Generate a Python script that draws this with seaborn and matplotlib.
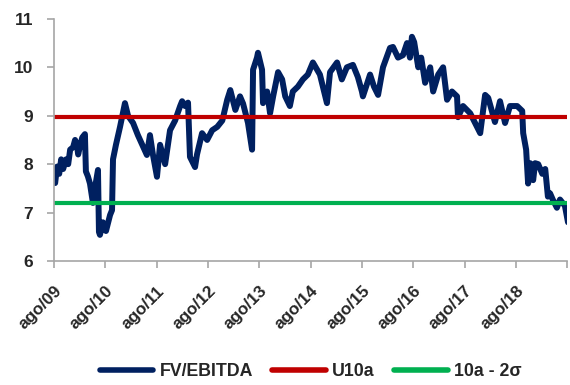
import matplotlib
matplotlib.use("Agg")
import matplotlib.pyplot as plt
import matplotlib.dates as mdates
import seaborn as sns
import pandas as pd

dates = [
    "2009-08-08", "2009-08-22", "2009-09-06", "2009-09-20", "2009-10-04", "2009-10-25",
    "2009-11-09", "2009-11-23", "2009-12-14", "2009-12-28", "2010-01-12", "2010-01-19",
    "2010-02-03", "2010-02-17", "2010-03-08", "2010-03-15", "2010-03-29", "2010-04-13",
    "2010-05-04", "2010-05-18", "2010-06-09", "2010-06-16", "2010-06-23", "2010-07-14",
    "2010-08-05", "2010-09-03", "2010-09-17", "2010-09-24", "2010-10-15", "2010-11-13",
    "2010-12-18", "2011-01-09", "2011-02-14", "2011-03-20", "2011-05-23", "2011-06-14",
    "2011-07-05", "2011-08-03", "2011-08-25", "2011-09-30", "2011-11-04", "2011-12-10",
    "2012-01-15", "2012-01-29", "2012-02-19", "2012-03-11", "2012-03-25", "2012-04-30",
    "2012-05-14", "2012-06-19", "2012-07-25", "2012-08-30", "2012-10-05", "2012-11-10",
    "2012-12-15", "2013-01-06", "2013-02-11", "2013-03-16", "2013-04-07", "2013-05-12",
    "2013-06-10", "2013-06-17", "2013-07-15", "2013-07-22", "2013-08-20", "2013-08-27",
    "2013-09-25", "2013-10-16", "2013-11-07", "2013-12-12", "2014-01-10", "2014-02-01",
    "2014-03-06", "2014-03-27", "2014-05-02", "2014-06-07", "2014-07-12", "2014-08-17",
    "2014-10-06", "2014-11-25", "2014-12-17", "2015-02-05", "2015-03-11", "2015-04-16",
    "2015-05-29", "2015-07-03", "2015-08-01", "2015-08-08", "2015-09-28", "2015-10-26",
    "2015-11-24", "2015-12-29", "2016-02-17", "2016-03-09", "2016-04-14", "2016-05-19",
    "2016-06-17", "2016-07-08", "2016-07-22", "2016-08-07", "2016-09-05", "2016-09-26",
    "2016-10-24", "2016-11-29", "2016-12-20", "2017-01-25", "2017-03-01", "2017-03-29",
    "2017-05-03", "2017-06-08", "2017-06-15", "2017-07-21", "2017-09-10", "2017-10-15",
    "2017-11-20", "2017-12-25", "2018-01-16", "2018-03-05", "2018-04-10", "2018-05-16",
    "2018-06-20", "2018-08-10", "2018-09-15", "2018-09-22", "2018-10-13", "2018-10-27",
    "2018-11-11", "2018-12-02", "2018-12-16", "2019-01-07", "2019-02-05", "2019-02-26",
    "2019-03-17", "2019-04-01", "2019-04-22", "2019-05-20", "2019-06-11", "2019-07-16",
    "2019-08-07",
]
fv_ebitda = [
    7.61, 7.95, 7.80, 8.10, 7.90, 8.10,
    8.00, 8.30, 8.35, 8.50, 8.35, 8.20,
    8.40, 8.55, 8.62, 7.85, 7.75, 7.60,
    7.20, 7.50, 7.88, 6.60, 6.54, 6.80,
    6.62, 6.95, 7.05, 8.10, 8.40, 8.77,
    9.26, 9.00, 8.85, 8.60, 8.19, 8.60,
    8.20, 7.74, 8.40, 8.00, 8.70, 8.90,
    9.20, 9.30, 9.20, 9.27, 8.15, 7.94,
    8.20, 8.64, 8.50, 8.70, 8.77, 8.90,
    9.33, 9.53, 9.12, 9.40, 9.25, 8.85,
    8.30, 9.95, 10.20, 10.30, 9.95, 9.26,
    9.50, 9.05, 9.40, 9.90, 9.75, 9.40,
    9.20, 9.50, 9.60, 9.75, 9.85, 10.10,
    9.85, 9.26, 9.90, 10.10, 9.75, 10.00,
    10.05, 9.80, 9.50, 9.40, 9.85, 9.60,
    9.43, 10.00, 10.40, 10.42, 10.20, 10.25,
    10.50, 10.20, 10.63, 10.52, 10.00, 10.20,
    9.68, 10.00, 9.50, 9.85, 10.00, 9.33,
    9.50, 9.40, 8.97, 9.20, 9.05, 8.85,
    8.64, 9.43, 9.37, 8.87, 9.30, 8.85,
    9.20, 9.20, 9.10, 8.64, 8.30, 7.60,
    8.02, 7.67, 8.02, 8.00, 7.80, 7.90,
    7.33, 7.40, 7.26, 7.10, 7.27, 7.14,
    6.80,
]
u10a = 8.97
lower_band = 7.19
series_names = ["FV/EBITDA", "U10a", "10a - 2σ"]
tick_years = list(range(2009, 2020))

sns.set_theme(style="white")
plt.rcParams["font.family"] = ["Liberation Sans", "DejaVu Sans"]

df = pd.DataFrame({"date": pd.to_datetime(dates), "value": fv_ebitda})

fig = plt.figure(figsize=(5.7, 3.85), dpi=100)
ax = fig.add_axes([0.095, 0.322, 0.9, 0.629])

sns.lineplot(data=df, x="date", y="value", ax=ax, color="#002060",
             linewidth=4.3, label=series_names[0], solid_joinstyle="round",
             solid_capstyle="round")
ax.axhline(u10a, color="#C00000", linewidth=3.0, label=series_names[1])
ax.axhline(lower_band, color="#00B050", linewidth=3.0, label=series_names[2])

ax.set_xlim(pd.Timestamp("2009-08-01"), pd.Timestamp("2019-08-01"))
ax.set_ylim(6, 11)
ax.set_yticks([6, 7, 8, 9, 10, 11])
ax.set_xticks([pd.Timestamp(f"{y}-08-01") for y in tick_years])
ax.xaxis.set_major_formatter(mdates.DateFormatter("ago/%y"))
ax.set_xlabel("")
ax.set_ylabel("")

for s in ["top", "right"]:
    ax.spines[s].set_visible(False)
for s in ["left", "bottom"]:
    ax.spines[s].set_color("#a6a6a6")
    ax.spines[s].set_linewidth(1.2)

ax.tick_params(axis="both", which="major", direction="out", length=5,
               width=1.2, color="#a6a6a6", left=True, bottom=True)
ax.tick_params(axis="y", labelsize=12.5, pad=10)
ax.tick_params(axis="x", labelsize=12.3, pad=11)
for lab in ax.get_yticklabels():
    lab.set_fontweight("bold")
labels = ax.get_xticklabels()
for i, lab in enumerate(labels):
    lab.set_fontweight("bold")
    lab.set_rotation(45)
    lab.set_ha("right")
    lab.set_rotation_mode("anchor")
    if i == len(labels) - 1:
        lab.set_visible(False)

ax.get_legend().remove()
handles, lbls = ax.get_legend_handles_labels()
leg = fig.legend(handles, lbls, loc="center", bbox_to_anchor=(0.545, 0.035),
                 ncol=3, frameon=False, handlelength=3.0, columnspacing=1.1,
                 handletextpad=0.35, prop={"weight": "bold", "size": 12.8})
for h in leg.legend_handles:
    h.set_linewidth(4)
    h.set_solid_capstyle("round")

fig.savefig("out.png", dpi=100)
